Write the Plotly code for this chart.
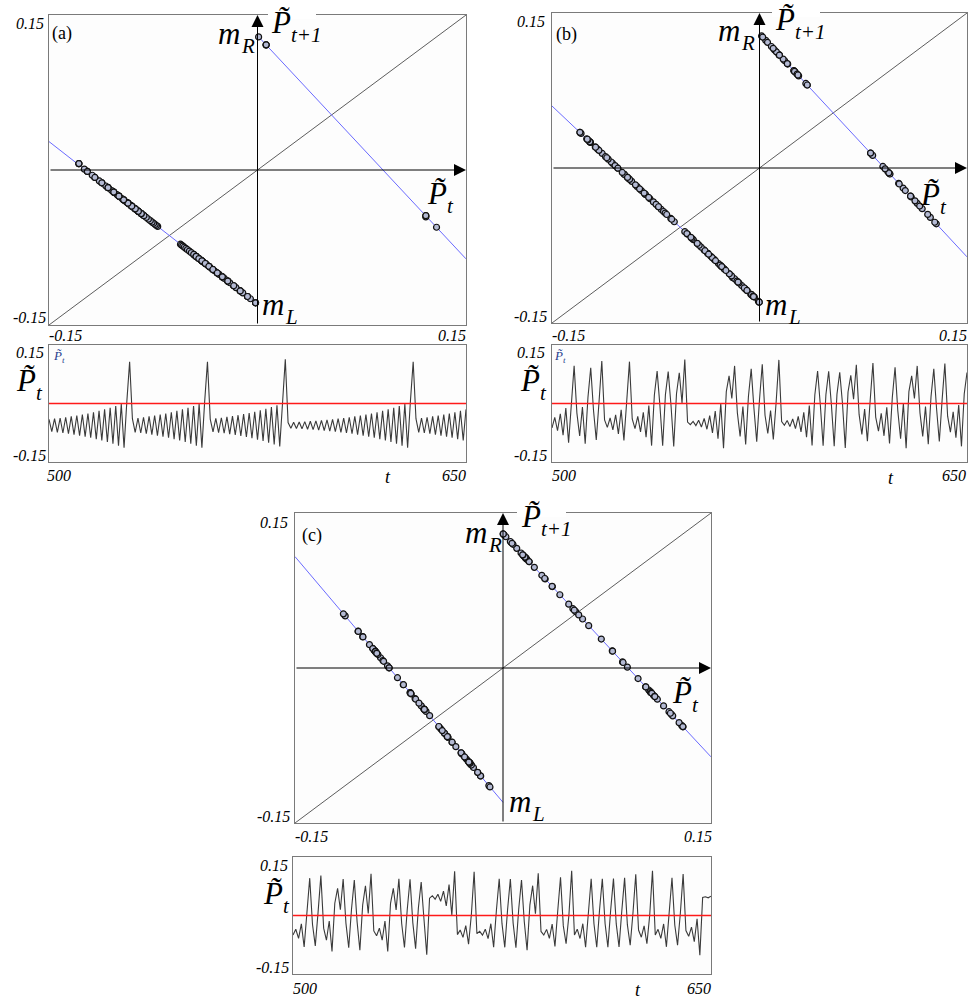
import plotly.graph_objects as go

W, H = 972, 999
FONT = "Liberation Serif"

# ---------------- data ----------------
t = list(range(500, 651))

# (a) time series P~_t , t = 500..650
pa = [
    -0.0459, -0.0817, -0.0442, -0.0836, -0.0422, -0.0857, -0.0400, -0.0879, -0.0376, -0.0905,
    -0.0350, -0.0932, -0.0321, -0.0963, -0.0289, -0.0997, -0.0253, -0.1034, -0.0214, -0.1075,
    -0.0171, -0.1120, -0.0124, -0.1170, -0.0072, -0.1224, -0.0014, -0.1285, 0.0062, 0.1211,
    -0.0442, -0.0836, -0.0422, -0.0857, -0.0400, -0.0879, -0.0376, -0.0905, -0.0350, -0.0932,
    -0.0321, -0.0963, -0.0289, -0.0997, -0.0253, -0.1034, -0.0214, -0.1075, -0.0171, -0.1120,
    -0.0124, -0.1170, -0.0072, -0.1224, -0.0014, -0.1285, 0.0062, 0.1211,
    -0.0454, -0.0824, -0.0435, -0.0844, -0.0414, -0.0864, -0.0391, -0.0889, -0.0367, -0.0914,
    -0.0340, -0.0943, -0.0310, -0.0975, -0.0276, -0.1010, -0.0239, -0.1049, -0.0199, -0.1091,
    -0.0155, -0.1138, -0.0106, -0.1189, -0.0051, -0.1246, 0.0008, 0.1288,
    -0.0554, -0.0718, -0.0546, -0.0727, -0.0537, -0.0736, -0.0527, -0.0747, -0.0516, -0.0758,
    -0.0504, -0.0771, -0.0490, -0.0785, -0.0476, -0.0800, -0.0459, -0.0817, -0.0442, -0.0836,
    -0.0422, -0.0857, -0.0400, -0.0879, -0.0376, -0.0905, -0.0350, -0.0932, -0.0321, -0.0963,
    -0.0289, -0.0997, -0.0253, -0.1034, -0.0214, -0.1075, -0.0171, -0.1120, -0.0124, -0.1170,
    -0.0072, -0.1224, -0.0014, -0.1285, 0.0062, 0.1211,
    -0.0442, -0.0836, -0.0422, -0.0857, -0.0400, -0.0879, -0.0376, -0.0905, -0.0350, -0.0932,
    -0.0321, -0.0963, -0.0289, -0.0997, -0.0253, -0.1034, -0.0214, -0.1075, -0.0171,
]

# (b) time series
pb = [
    -0.0710, -0.0401, -0.0792, -0.0297, -0.0924, -0.0129, -0.1137, 0.0141, 0.1097, -0.0280,
    -0.0945, -0.0103, -0.1170, 0.0182, 0.1038, -0.0194, -0.1062, 0.0045, 0.1235, -0.0478,
    -0.0694, -0.0421, -0.0767, -0.0328, -0.0884, -0.0180, -0.1072, 0.0058, 0.1216, -0.0449,
    -0.0731, -0.0374, -0.0826, -0.0254, -0.0978, -0.0061, -0.1223, 0.0249, 0.0941, -0.0055,
    -0.1230, 0.0258, 0.0928, -0.0037, -0.1249, 0.0283, 0.0892, 0.0015, 0.1278, -0.0540,
    -0.0616, -0.0520, -0.0641, -0.0488, -0.0682, -0.0436, -0.0748, -0.0352, -0.0854, -0.0218,
    -0.1024, -0.0002, -0.1298, 0.0345, 0.0803, 0.0144, 0.1092, -0.0272, -0.0956, -0.0089,
    -0.1187, 0.0204, 0.1006, -0.0148, -0.1113, 0.0110, 0.1140, -0.0342, -0.0867, -0.0202,
    -0.1044, 0.0023, 0.1267, -0.0525, -0.0635, -0.0496, -0.0671, -0.0450, -0.0730, -0.0375,
    -0.0825, -0.0255, -0.0977, -0.0062, -0.1222, 0.0248, 0.0943, -0.0058, -0.1226, 0.0253,
    0.0935, -0.0047, -0.1241, 0.0272, 0.0908, -0.0008, -0.1290, 0.0335, 0.0818, 0.0122,
    0.1124, -0.0318, -0.0897, -0.0163, -0.1094, 0.0086, 0.1176, -0.0394, -0.0801, -0.0285,
    -0.0939, -0.0110, -0.1161, 0.0171, 0.1054, -0.0218, -0.1024, -0.0002, -0.1298, 0.0345,
    0.0803, 0.0144, 0.1092, -0.0273, -0.0954, -0.0091, -0.1185, 0.0201, 0.1010, -0.0155,
    -0.1104, 0.0099, 0.1158, -0.0368, -0.0834, -0.0243, -0.0992, -0.0043, -0.1245, 0.0278,
    0.0900,
]

# (c) time series
pc = [
    -0.0568, -0.0400, -0.0666, -0.0244, -0.0914, 0.0149, 0.1085, -0.0263, -0.0883, 0.0099,
    0.1158, -0.0367, -0.0719, -0.0161, -0.1045, 0.0356, 0.0788, 0.0166, 0.1061, -0.0228,
    -0.0939, 0.0189, 0.1028, -0.0182, -0.1012, 0.0304, 0.0862, 0.0059, 0.1215, -0.0449,
    -0.0589, -0.0367, -0.0718, -0.0162, -0.1044, 0.0354, 0.0790, 0.0163, 0.1065, -0.0234,
    -0.0929, 0.0173, 0.1051, -0.0213, -0.0963, 0.0226, 0.0974, -0.0102, -0.1138, 0.0504,
    0.0574, 0.0474, 0.0618, 0.0410, 0.0709, 0.0280, 0.0897, 0.0008, 0.1288, -0.0555,
    -0.0420, -0.0634, -0.0295, -0.0833, 0.0021, 0.1270, -0.0529, -0.0461, -0.0570, -0.0397,
    -0.0670, -0.0238, -0.0922, 0.0162, 0.1067, -0.0237, -0.0925, 0.0166, 0.1061, -0.0228,
    -0.0939, 0.0188, 0.1030, -0.0183, -0.1010, 0.0301, 0.0866, 0.0053, 0.1224, -0.0463,
    -0.0566, -0.0403, -0.0662, -0.0251, -0.0902, 0.0130, 0.1113, -0.0302, -0.0821, 0.0001,
    0.1298, -0.0569, -0.0398, -0.0669, -0.0239, -0.0921, 0.0160, 0.1069, -0.0239, -0.0921,
    0.0160, 0.1069, -0.0240, -0.0920, 0.0158, 0.1073, -0.0245, -0.0911, 0.0144, 0.1093,
    -0.0274, -0.0866, 0.0072, 0.1197, -0.0423, -0.0630, -0.0302, -0.0821, 0.0002, 0.1297,
    -0.0567, -0.0401, -0.0665, -0.0246, -0.0910, 0.0142, 0.1095, -0.0277, -0.0861, 0.0065,
    0.1207, -0.0438, -0.0606, -0.0340, -0.0761, -0.0094, -0.1151, 0.0524, 0.0546, 0.0514,
    0.0560,
]

# map branches (blue lines) and diagonal
branch_left_x = [-0.15, 0.0]
branch_left_y_a = [0.0275, -0.13]
branch_left_y_b = [0.060, -0.13]
branch_left_y_c = [0.1078, -0.13]
branch_right_x = [0.0, 0.15]
branch_right_y = [0.13, -0.086]
diag = [-0.15, 0.15]
zero_level = [0.0, 0.0]
t_span = [500, 650]

# ---------------- layout geometry (pixels) ----------------
boxes = {
    "a_map": (49, 466, 15, 325),
    "a_ts": (49, 466, 345, 462),
    "b_map": (552, 967, 13, 323),
    "b_ts": (552, 967, 345, 462),
    "c_map": (295, 711, 513, 823),
    "c_ts": (293, 711, 857, 974),
}
order = ["a_map", "a_ts", "b_map", "b_ts", "c_map", "c_ts"]

fig = go.Figure()
layout = dict(
    width=W, height=H, margin=dict(l=0, r=0, t=0, b=0),
    paper_bgcolor="white", plot_bgcolor="#fdfdfd", showlegend=False,
    font=dict(family=FONT, size=16, color="black"),
)

def axis_ids(i):
    n = "" if i == 1 else str(i)
    return "x" + n, "y" + n, "xaxis" + n, "yaxis" + n

for i, key in enumerate(order, start=1):
    x0, x1, y0, y1 = boxes[key]
    xr, yr, xk, yk = axis_ids(i)
    if key.endswith("map"):
        rx, ry = [-0.15, 0.15], [-0.15, 0.15]
    else:
        rx, ry = [500, 650], [-0.17, 0.17]
    common = dict(showgrid=False, zeroline=False, showticklabels=False, ticks="",
                  showline=True, mirror=True, linecolor="#7a7a7a", linewidth=1,
                  fixedrange=True)
    layout[xk] = dict(domain=[x0 / W, x1 / W], range=rx, anchor=yr, **common)
    layout[yk] = dict(domain=[1 - y1 / H, 1 - y0 / H], range=ry, anchor=xr, **common)

panels = [
    ("a", pa, branch_left_y_a, 1, 2),
    ("b", pb, branch_left_y_b, 3, 4),
    ("c", pc, branch_left_y_c, 5, 6),
]

annotations = []

for name, series, left_y, im, its in panels:
    xm, ym, _, _ = axis_ids(im)
    xt, yt, _, _ = axis_ids(its)
    fig.add_trace(go.Scatter(x=diag, y=diag, mode="lines",
                             line=dict(color="#333333", width=0.8),
                             xaxis=xm, yaxis=ym, hoverinfo="skip"))
    fig.add_trace(go.Scatter(x=branch_left_x, y=left_y, mode="lines",
                             line=dict(color="#6a6aff", width=1),
                             xaxis=xm, yaxis=ym, hoverinfo="skip"))
    fig.add_trace(go.Scatter(x=branch_right_x, y=branch_right_y, mode="lines",
                             line=dict(color="#6a6aff", width=1),
                             xaxis=xm, yaxis=ym, hoverinfo="skip"))
    # return-map points (P_t, P_t+1)
    fig.add_trace(go.Scatter(x=series[:-1], y=series[1:], mode="markers",
                             marker=dict(symbol="circle", size=6, color="#b4bad4",
                                         line=dict(color="#111111", width=1.2)),
                             xaxis=xm, yaxis=ym))
    # axes with arrows
    for (hx, hy, tx, ty) in [(0.15, 0, -0.15, 0), (0, 0.15, 0, -0.15)]:
        annotations.append(dict(x=hx, y=hy, ax=tx, ay=ty, xref=xm, yref=ym,
                                axref=xm, ayref=ym, text="", showarrow=True,
                                arrowhead=2, arrowsize=2.4, arrowwidth=1,
                                arrowcolor="black", standoff=0,
                                font=dict(family=FONT, size=10)))
    # time series
    fig.add_trace(go.Scatter(x=t, y=series, mode="lines",
                             line=dict(color="#3a3a3a", width=1.1),
                             xaxis=xt, yaxis=yt))
    fig.add_trace(go.Scatter(x=t_span, y=zero_level, mode="lines",
                             line=dict(color="#ff1a1a", width=1.5),
                             xaxis=xt, yaxis=yt, hoverinfo="skip"))

def lab(text, px, py, size, xa="center", ya="middle", color="black", italic=True):
    return dict(text=text, x=px / W, y=1 - py / H, xref="paper", yref="paper",
                showarrow=False, xanchor=xa, yanchor=ya, borderpad=0, borderwidth=0,
                font=dict(family=FONT, size=size, color=color,
                          style="italic" if italic else "normal"))

def sub_label(main, sub, left, py, size=31, color="black"):
    """main symbol plus a subscript, as two plain texts side by side"""
    wmain = {"m": 0.722, "P\u0303": 0.611}[main] * size + 0.6
    ssize = round(size * 0.68)
    return [
        lab(main, left, py - 0.13 * size, size, "left", color=color),
        lab(sub, left + wmain, py + 0.25 * size, ssize, "left", color=color),
    ]

PTILDE = "P\u0303"
TS = 16
LEG = "#2a3f8f"

# white gaps in the top frame behind the P~_{t+1} labels
shapes = [
    dict(type="rect", xref="paper", yref="paper", layer="above",
         x0=gx0 / W, x1=gx1 / W, y0=1 - gy1 / H, y1=1 - gy0 / H,
         fillcolor="white", line=dict(width=0))
    for (gx0, gx1, gy0, gy1) in [(268, 316, 11, 19), (772, 820, 9, 17), (517, 566, 509, 517)]
]

# panel (a)
annotations += [
    lab("0.15", 44, 23, TS, "right"),
    lab("-0.15", 46, 317, TS, "right"),
    lab("-0.15", 49, 336, TS, "left"),
    lab("0.15", 466, 336, TS, "right"),
    lab("(a)", 52, 33, 18, "left", italic=False),
    lab("0.15", 44, 352, TS, "right"),
    lab("-0.15", 46, 455, TS, "right"),
    lab("500", 47, 476, TS, "left"),
    lab("t", 388, 477, 18),
    lab("650", 466, 476, TS, "right"),
]
annotations += sub_label("m", "R", 218, 38)
annotations += sub_label(PTILDE, "t+1", 271, 27)
annotations += sub_label(PTILDE, "t", 427, 198)
annotations += sub_label("m", "L", 262, 309)
annotations += sub_label(PTILDE, "t", 16, 385)
annotations += sub_label(PTILDE, "t", 53, 357, size=13, color=LEG)

# panel (b)
annotations += [
    lab("0.15", 545, 22, TS, "right"),
    lab("-0.15", 547, 316, TS, "right"),
    lab("-0.15", 552, 335, TS, "left"),
    lab("0.15", 967, 335, TS, "right"),
    lab("(b)", 556, 34, 18, "left", italic=False),
    lab("0.15", 545, 352, TS, "right"),
    lab("-0.15", 547, 455, TS, "right"),
    lab("500", 552, 476, TS, "left"),
    lab("t", 891, 478, 18),
    lab("650", 966, 476, TS, "right"),
]
annotations += sub_label("m", "R", 718, 35)
annotations += sub_label(PTILDE, "t+1", 775, 24)
annotations += sub_label(PTILDE, "t", 920, 199)
annotations += sub_label("m", "L", 765, 309)
annotations += sub_label(PTILDE, "t", 520, 385)
annotations += sub_label(PTILDE, "t", 554, 357, size=13, color=LEG)

# panel (c)
annotations += [
    lab("0.15", 288, 522, TS, "right"),
    lab("-0.15", 290, 816, TS, "right"),
    lab("-0.15", 295, 836, TS, "left"),
    lab("0.15", 712, 836, TS, "right"),
    lab("(c)", 302, 535, 18, "left", italic=False),
    lab("0.15", 288, 865, TS, "right"),
    lab("-0.15", 289, 967, TS, "right"),
    lab("500", 293, 988, TS, "left"),
    lab("t", 638, 990, 18),
    lab("650", 711, 988, TS, "right"),
]
annotations += sub_label("m", "R", 465, 537)
annotations += sub_label(PTILDE, "t+1", 521, 521)
annotations += sub_label(PTILDE, "t", 672, 697)
annotations += sub_label("m", "L", 509, 806)
annotations += sub_label(PTILDE, "t", 263, 898)

layout["annotations"] = annotations
layout["shapes"] = shapes
fig.update_layout(**layout)
fig.write_html("out.html")
